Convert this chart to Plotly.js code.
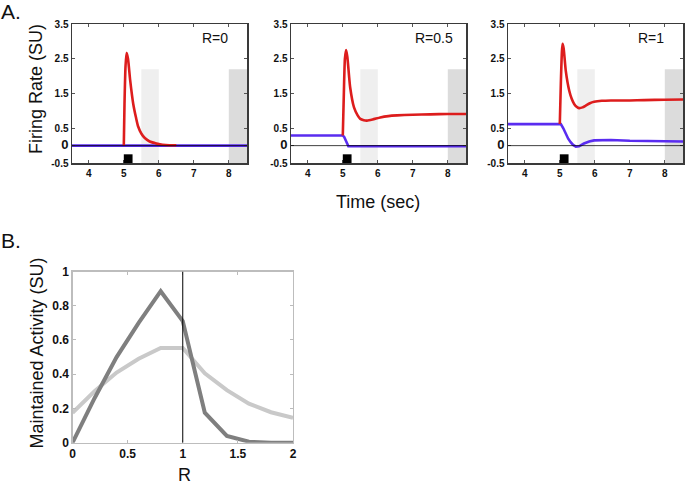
<!DOCTYPE html>
<html>
<head>
<meta charset="utf-8">
<script src="https://cdn.plot.ly/plotly-3.0.1.min.js"></script>
<style>html,body{margin:0;padding:0;background:#fff;}#chart{width:685px;height:485px;}</style>
</head>
<body>
<div id="chart"></div>
<script>
// ---- Panel A data (time in sec, firing rate in SU) ----
const panelLabels = ['R=0', 'R=0.5', 'R=1'];
const timeTicks = [4, 5, 6, 7, 8];
const rateTicks = [3.5, 2.5, 1.5, 0.5, 0, -0.5];
const rateTickText = ['3.5', '2.5', '1.5', '0.5', '0', '-0.5'];

const redT0 = [5.0, 5.02, 5.05, 5.08, 5.12, 5.18, 5.27, 5.35, 5.41, 5.5, 5.6, 5.74, 5.9, 6.03, 6.2, 6.5];
const redY0 = [0, 1.2, 2.3, 2.67, 2.5, 1.9, 1.2, 0.8, 0.55, 0.35, 0.22, 0.12, 0.07, 0.04, 0.02, 0.01];
const blueT0 = [3.5, 8.55];
const blueY0 = [0, 0];

const redT1 = [5.0, 5.03, 5.06, 5.095, 5.13, 5.21, 5.32, 5.42, 5.5, 5.6, 5.69, 5.85, 6.07, 6.3, 6.55, 7.0, 7.5, 8.0, 8.55];
const redY1 = [0.29, 1.5, 2.5, 2.75, 2.55, 1.68, 1.10, 0.88, 0.77, 0.73, 0.72, 0.75, 0.81, 0.85, 0.87, 0.89, 0.90, 0.91, 0.91];
const blueT1 = [3.5, 5.0, 5.04, 5.1, 5.16, 8.55];
const blueY1 = [0.29, 0.29, 0.25, 0.12, -0.02, -0.02];

const redT2 = [5.0, 5.03, 5.06, 5.08, 5.11, 5.17, 5.27, 5.34, 5.41, 5.48, 5.55, 5.65, 5.74, 5.86, 5.98, 6.2, 6.46, 7.0, 7.41, 8.0, 8.55];
const redY2 = [0.62, 1.8, 2.7, 2.93, 2.8, 2.16, 1.58, 1.35, 1.2, 1.12, 1.08, 1.1, 1.15, 1.22, 1.26, 1.29, 1.30, 1.30, 1.31, 1.32, 1.33];
const blueT2 = [3.5, 5.03, 5.1, 5.17, 5.24, 5.31, 5.38, 5.46, 5.55, 5.69, 5.84, 5.98, 6.2, 6.46, 7.0, 7.5, 8.0, 8.55];
const blueY2 = [0.62, 0.62, 0.5, 0.34, 0.2, 0.1, 0.02, -0.03, -0.02, 0.06, 0.12, 0.15, 0.16, 0.16, 0.14, 0.13, 0.12, 0.12];

// epochs
const stimWindow = [5.0, 5.25];
const cueWindow = [5.5, 6.0];
const delayWindow = [8.0, 8.55];
const shadeTop = 2.2;

// ---- Panel B data ----
const rValues = [0, 0.2, 0.4, 0.6, 0.8, 1.0, 1.2, 1.4, 1.6, 1.8, 2.0];
const maintDark = [0, 0.26, 0.50, 0.70, 0.885, 0.71, 0.175, 0.04, 0.006, 0.0, 0.0];
const maintLight = [0.175, 0.30, 0.41, 0.49, 0.553, 0.553, 0.405, 0.307, 0.228, 0.178, 0.145];
const rTicks = [0, 0.5, 1, 1.5, 2];
const rTickText = ['0', '0.5', '1', '1.5', '2'];
const actTicks = [0, 0.2, 0.4, 0.6, 0.8, 1];
const actTickText = ['0', '0.2', '0.4', '0.6', '0.8', '1'];

const RED = '#dd1d1d';
const BLUE = '#5a2cf0';

const W = 685, H = 485;
const px = x => x / W;
const py = y => 1 - y / H;

const redSets = [[redT0, redY0], [redT1, redY1], [redT2, redY2]];
const blueSets = [[blueT0, blueY0], [blueT1, blueY1], [blueT2, blueY2]];
const traces = [];
for (let i = 0; i < 3; i++) {
  const xa = i === 0 ? 'x' : 'x' + (i + 1);
  const ya = i === 0 ? 'y' : 'y' + (i + 1);
  traces.push({x: blueSets[i][0], y: blueSets[i][1], xaxis: xa, yaxis: ya, mode: 'lines',
    line: {color: BLUE, width: 2.6}, hoverinfo: 'skip', showlegend: false});
  traces.push({x: redSets[i][0], y: redSets[i][1], xaxis: xa, yaxis: ya, mode: 'lines',
    line: {color: RED, width: 2.6, shape: 'spline', smoothing: 0.6}, hoverinfo: 'skip', showlegend: false});
}
traces.push({x: rValues, y: maintLight, xaxis: 'x4', yaxis: 'y4', mode: 'lines',
  line: {color: '#c9c9c9', width: 4}, hoverinfo: 'skip', showlegend: false});
traces.push({x: rValues, y: maintDark, xaxis: 'x4', yaxis: 'y4', mode: 'lines',
  line: {color: '#7f7f7f', width: 4}, hoverinfo: 'skip', showlegend: false});

const tickFontA = {family: 'Liberation Sans, Arial, sans-serif', size: 10, color: '#111', weight: 'bold'};
const tickFontB = {family: 'Liberation Sans, Arial, sans-serif', size: 12, color: '#111', weight: 'bold'};

const xDomains = [[px(72), px(247)], [px(291), px(466)], [px(508), px(683)]];
const yDomainA = [py(163), py(24)];
const layout = {
  width: W, height: H, autosize: false,
  margin: {l: 0, r: 0, t: 0, b: 0},
  paper_bgcolor: '#fff', plot_bgcolor: '#fff',
  showlegend: false,
  shapes: [], annotations: []
};
for (let i = 0; i < 3; i++) {
  const sfx = i === 0 ? '' : String(i + 1);
  layout['xaxis' + sfx] = {
    domain: xDomains[i], anchor: 'y' + sfx, range: [3.52, 8.52],
    tickvals: timeTicks, ticktext: timeTicks.map(String),
    ticks: 'inside', ticklen: 3, tickcolor: '#555', mirror: 'ticks',
    showline: true, linecolor: '#3a3a3a', linewidth: 1.5,
    showgrid: false, zeroline: false, tickfont: tickFontA, fixedrange: true
  };
  layout['yaxis' + sfx] = {
    domain: yDomainA, anchor: 'x' + sfx, range: [-0.5, 3.5],
    tickvals: rateTicks,
    ticktext: rateTickText.map(t => t === '0' ? '<span style="font-size:13px">0</span>' : t),
    ticks: 'inside', ticklen: 3, tickcolor: '#555', mirror: 'ticks',
    showline: true, linecolor: '#3a3a3a', linewidth: 1.5,
    showgrid: false, zeroline: false,
    tickfont: tickFontA, fixedrange: true
  };
  const xr = 'x' + sfx, yr = 'y' + sfx;
  layout.shapes.push({type: 'rect', xref: xr, yref: yr, x0: cueWindow[0], x1: cueWindow[1], y0: -0.5, y1: shadeTop,
    fillcolor: '#efefef', line: {width: 0}, layer: 'below'});
  layout.shapes.push({type: 'rect', xref: xr, yref: yr, x0: delayWindow[0], x1: delayWindow[1], y0: -0.5, y1: shadeTop,
    fillcolor: '#dcdcdc', line: {width: 0}, layer: 'below'});
  layout.shapes.push({type: 'rect', xref: xr, yref: yr, x0: stimWindow[0], x1: stimWindow[1], y0: -0.5, y1: -0.25,
    fillcolor: '#000', line: {width: 0}, layer: 'above'});
  layout.shapes.push({type: 'line', xref: xr + ' domain', yref: yr, x0: 0, x1: 1, y0: 0, y1: 0,
    line: {color: 'rgba(0,0,0,0.75)', width: 1}, layer: 'above'});
}
const labelX = [214.7, 433.5, 651];
for (let i = 0; i < 3; i++) {
  layout.annotations.push({text: panelLabels[i], xref: 'paper', yref: 'paper', x: px(labelX[i]), y: py(38.5),
    xanchor: 'center', yanchor: 'middle', showarrow: false,
    font: {family: 'Liberation Sans, Arial, sans-serif', size: 14, color: '#111'}});
}
layout.xaxis4 = {
  domain: [px(72.5), px(293)], anchor: 'y4', range: [0, 2],
  tickvals: rTicks, ticktext: rTickText,
  ticks: 'inside', ticklen: 3, tickcolor: '#bbb', mirror: 'ticks',
  showline: true, linecolor: '#bdbdbd', linewidth: 1.2,
  showgrid: false, zeroline: false, tickfont: tickFontB, fixedrange: true
};
layout.yaxis4 = {
  domain: [py(442.7), py(271.5)], anchor: 'x4', range: [0, 1],
  tickvals: actTicks, ticktext: actTickText,
  ticks: 'inside', ticklen: 3, tickcolor: '#bbb', mirror: 'ticks',
  showline: true, linecolor: '#bdbdbd', linewidth: 1.2,
  showgrid: false, zeroline: false, tickfont: tickFontB, fixedrange: true
};
layout.shapes.push({type: 'line', xref: 'x4', yref: 'y4', x0: 1, x1: 1, y0: 0, y1: 1,
  line: {color: '#000', width: 1}, layer: 'above'});

const bigFont = {family: 'Liberation Sans, Arial, sans-serif', size: 18, color: '#111'};
layout.annotations.push(
  {text: 'A.', xref: 'paper', yref: 'paper', x: px(-1), y: py(11), xanchor: 'left', yanchor: 'middle', showarrow: false,
   font: {family: 'Liberation Sans, Arial, sans-serif', size: 21, color: '#111'}},
  {text: 'B.', xref: 'paper', yref: 'paper', x: px(-1), y: py(240), xanchor: 'left', yanchor: 'middle', showarrow: false,
   font: {family: 'Liberation Sans, Arial, sans-serif', size: 21, color: '#111'}},
  {text: 'Firing Rate (SU)', xref: 'paper', yref: 'paper', x: px(36), y: py(89), textangle: -90,
   xanchor: 'center', yanchor: 'middle', showarrow: false, font: bigFont},
  {text: 'Time (sec)', xref: 'paper', yref: 'paper', x: px(378), y: py(201.5),
   xanchor: 'center', yanchor: 'middle', showarrow: false, font: bigFont},
  {text: 'Maintained Activity (SU)', xref: 'paper', yref: 'paper', x: px(36), y: py(353.5), textangle: -90,
   xanchor: 'center', yanchor: 'middle', showarrow: false, font: bigFont},
  {text: 'R', xref: 'paper', yref: 'paper', x: px(184), y: py(474.5),
   xanchor: 'center', yanchor: 'middle', showarrow: false, font: bigFont}
);

Plotly.newPlot('chart', traces, layout, {staticPlot: true, displayModeBar: false});
</script>
</body>
</html>
